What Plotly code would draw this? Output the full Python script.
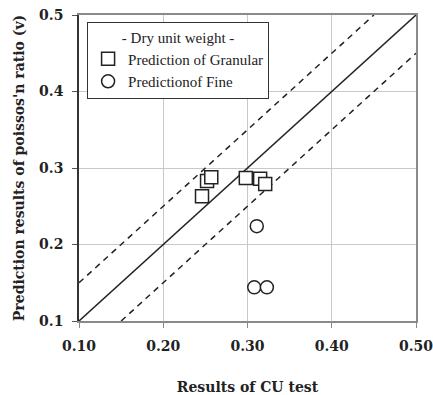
import plotly.graph_objects as go

# Measured values (CU test) vs predicted Poisson's ratio
granular_cu = [0.252, 0.257, 0.246, 0.298, 0.315, 0.321]
granular_pred = [0.283, 0.288, 0.263, 0.287, 0.286, 0.279]
fine_cu = [0.311, 0.308, 0.323]
fine_pred = [0.224, 0.144, 0.144]

# Reference lines: 1:1 and +/- 0.05 bands
line_x = [0.10, 0.50]
line_y = [0.10, 0.50]
upper_x = [0.10, 0.45]
upper_y = [0.15, 0.50]
lower_x = [0.15, 0.50]
lower_y = [0.10, 0.45]

x_ticks = [0.10, 0.20, 0.30, 0.40, 0.50]
y_ticks = [0.1, 0.2, 0.3, 0.4, 0.5]

serif = "DejaVu Serif, Liberation Serif, serif"
legend_font = "Liberation Serif, DejaVu Serif, serif"

fig = go.Figure()
fig.add_trace(go.Scatter(x=line_x, y=line_y, mode="lines",
                         line=dict(color="#222", width=1.5), showlegend=False))
fig.add_trace(go.Scatter(x=upper_x, y=upper_y, mode="lines",
                         line=dict(color="#222", width=1.5, dash="6px,5px"), showlegend=False))
fig.add_trace(go.Scatter(x=lower_x, y=lower_y, mode="lines",
                         line=dict(color="#222", width=1.5, dash="6px,5px"), showlegend=False))
fig.add_trace(go.Scatter(x=granular_cu, y=granular_pred, mode="markers",
                         name="Prediction of Granular",
                         marker=dict(symbol="square", size=13, color="white",
                                     line=dict(color="#222", width=1.5))))
fig.add_trace(go.Scatter(x=fine_cu, y=fine_pred, mode="markers",
                         name="Predictionof Fine",
                         marker=dict(symbol="circle", size=13, color="white",
                                     line=dict(color="#222", width=1.5))))
# invisible trace that activates the right-hand frame axis
fig.add_trace(go.Scatter(x=line_x, y=line_y, yaxis="y2", mode="lines",
                         line=dict(width=0), hoverinfo="skip", showlegend=False))

tick_font = dict(family=serif, size=14, color="#222")
title_font = dict(family=serif, size=14, color="#222")

fig.update_layout(
    width=433, height=395,
    margin=dict(l=79, r=17, t=15, b=74),
    plot_bgcolor="white", paper_bgcolor="white",
    xaxis=dict(
        range=[0.10, 0.50], tickvals=x_ticks,
        ticktext=[f"<b>{v:.2f}</b>" for v in x_ticks],
        showgrid=True, gridcolor="#c8c8c8", gridwidth=1, zeroline=False,
        showline=True, linecolor="#8a8a8a", linewidth=2, mirror=True,
        ticks="outside", ticklen=5, tickcolor="#888", ticklabelstandoff=6,
        ticklabeloverflow="allow",
        tickfont=tick_font, automargin=False,
        title=dict(text="<b>Results of CU test</b>", font=title_font, standoff=30),
    ),
    yaxis=dict(
        range=[0.1, 0.5], tickvals=y_ticks,
        ticktext=[f"<b>{v:.1f}</b>" for v in y_ticks],
        showgrid=True, gridcolor="#c8c8c8", gridwidth=1, zeroline=False,
        showline=True, linecolor="#333", linewidth=1.5, mirror=False,
        ticks="outside", ticklen=5, tickcolor="#555", ticklabelstandoff=6,
        ticklabeloverflow="allow",
        tickfont=tick_font, automargin=False,
        title=dict(text="<b>Prediction results of poissos'n ratio (v)</b>",
                   font=title_font, standoff=11),
    ),
    yaxis2=dict(
        overlaying="y", side="right", range=[0.1, 0.5],
        showgrid=False, zeroline=False, showticklabels=False, ticks="",
        showline=True, linecolor="#8a8a8a", linewidth=1.5, automargin=False,
    ),
    legend=dict(
        x=0.024, y=0.977, xanchor="left", yanchor="top",
        bgcolor="white", bordercolor="#333", borderwidth=1,
        font=dict(family=legend_font, size=15, color="#222"),
        title=dict(text="- Dry unit weight -", side="top center",
                   font=dict(family=legend_font, size=15, color="#222")),
        itemwidth=30, tracegroupgap=0,
    ),
)

fig.write_html("out.html")
